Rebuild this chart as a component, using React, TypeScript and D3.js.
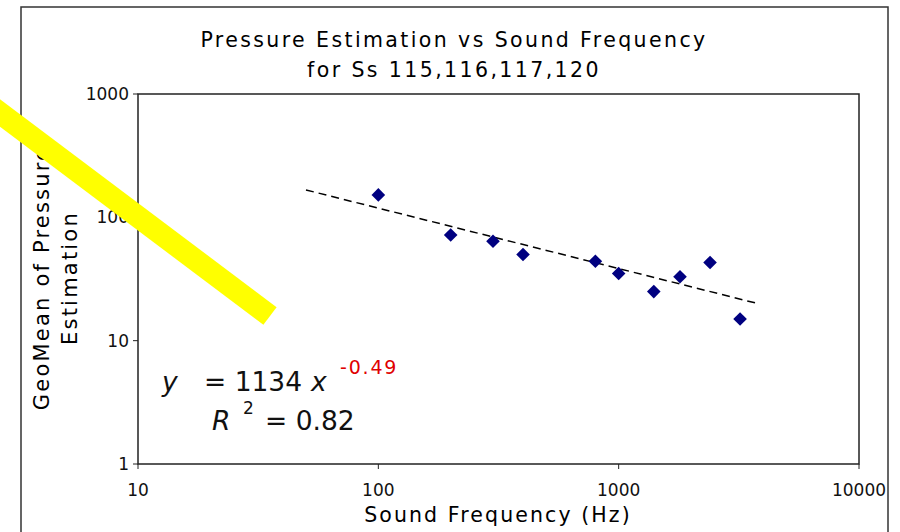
import React from 'react';
import * as d3 from 'd3';

// Frequency (Hz) and geometric mean of pressure estimates
const frequencies = [100, 200, 300, 400, 800, 1000, 1400, 1800, 2400, 3200];
const geoMeans = [152, 72, 64, 50, 44, 35, 25, 33, 43, 15];

// Power trendline y = 1134 x^-0.49, drawn over this frequency span
const trendCoef = 1134;
const trendExp = -0.49;
const trendSpan = [50, 3700];

const xTicks = [10, 100, 1000, 10000];
const yTicks = [1, 10, 100, 1000];

const W = 900;
const H = 532;
const plot = { left: 138, right: 859, top: 94, bottom: 464 };
const font = '"DejaVu Sans", Verdana, sans-serif';

const App = () => {
    const x = d3.scaleLog().domain([10, 10000]).range([plot.left, plot.right]);
    const y = d3.scaleLog().domain([1, 1000]).range([plot.bottom, plot.top]);

    const trend = d3
        .line<number>()
        .x(f => x(f))
        .y(f => y(trendCoef * Math.pow(f, trendExp)));

    const diamond = d3.symbol().type(d3.symbolDiamond2).size(118)();

    return (
        <svg
            width={W}
            height={H}
            style={{ position: 'absolute', left: 0, top: 0, background: '#fff' }}
        >
            {/* outer chart frame, bottom is cut off */}
            <path d="M21,540 V7 H888 V540" fill="none" stroke="#333" strokeWidth={1.5} />

            <text x={454} y={47} textAnchor="middle" fontFamily={font} fontSize={20.5} letterSpacing={2.4} fill="#000">
                Pressure Estimation vs Sound Frequency
            </text>
            <text x={454} y={77} textAnchor="middle" fontFamily={font} fontSize={20.5} letterSpacing={2.4} fill="#000">
                for Ss 115,116,117,120
            </text>

            {/* plot area */}
            <rect
                x={plot.left}
                y={plot.top}
                width={plot.right - plot.left}
                height={plot.bottom - plot.top}
                fill="#fff"
                stroke="#222"
                strokeWidth={1.5}
            />

            {yTicks.map(t => (
                <g key={'y' + t}>
                    <line x1={plot.left - 5} x2={plot.left} y1={y(t)} y2={y(t)} stroke="#222" />
                    <text
                        x={plot.left - 9}
                        y={y(t)}
                        dy="0.35em"
                        textAnchor="end"
                        fontFamily={font}
                        fontSize={17}
                        fill="#111"
                    >
                        {t}
                    </text>
                </g>
            ))}

            {xTicks.map(t => (
                <g key={'x' + t}>
                    <line x1={x(t)} x2={x(t)} y1={plot.bottom} y2={plot.bottom + 5} stroke="#222" />
                    <text
                        x={x(t)}
                        y={plot.bottom + 26}
                        dy="0.35em"
                        textAnchor="middle"
                        fontFamily={font}
                        fontSize={17}
                        fill="#111"
                    >
                        {t}
                    </text>
                </g>
            ))}

            <text x={498} y={522} textAnchor="middle" fontFamily={font} fontSize={20.5} letterSpacing={2.1} fill="#000">
                Sound Frequency (Hz)
            </text>

            <g transform="translate(42,278) rotate(-90)">
                <text x={0} y={0} dy="0.35em" textAnchor="middle" fontFamily={font} fontSize={21} letterSpacing={2.2} fill="#000">
                    GeoMean of Pressure
                </text>
                <text x={0} y={28} dy="0.35em" textAnchor="middle" fontFamily={font} fontSize={21} letterSpacing={2.2} fill="#000">
                    Estimation
                </text>
            </g>

            {/* trendline */}
            <path
                d={trend(trendSpan) || ''}
                fill="none"
                stroke="#000"
                strokeWidth={1.5}
                strokeDasharray="8,5"
            />

            {frequencies.map((f, i) => (
                <path
                    key={f}
                    d={diamond || ''}
                    transform={`translate(${x(f)},${y(geoMeans[i])})`}
                    fill="#000080"
                />
            ))}

            {/* trendline equation */}
            <text fontFamily={font} fontSize={26.5} fill="#111">
                <tspan x={162} y={391} fontStyle="italic">y</tspan>
                <tspan x={204} y={391}>= 1134</tspan>
                <tspan x={311} y={391} fontStyle="italic">x</tspan>
                <tspan x={340} y={374} fontSize={19} letterSpacing={1.8} fill="#e00000">-0.49</tspan>
                <tspan x={212} y={430} fontStyle="italic">R</tspan>
                <tspan x={243} y={414} fontSize={17}>2</tspan>
                <tspan x={265} y={430}>= 0.82</tspan>
            </text>

            {/* yellow highlighter stroke */}
            <line x1={-20} y1={98} x2={270} y2={316} stroke="#ffff00" strokeWidth={22} />
        </svg>
    );
};

export default App;
